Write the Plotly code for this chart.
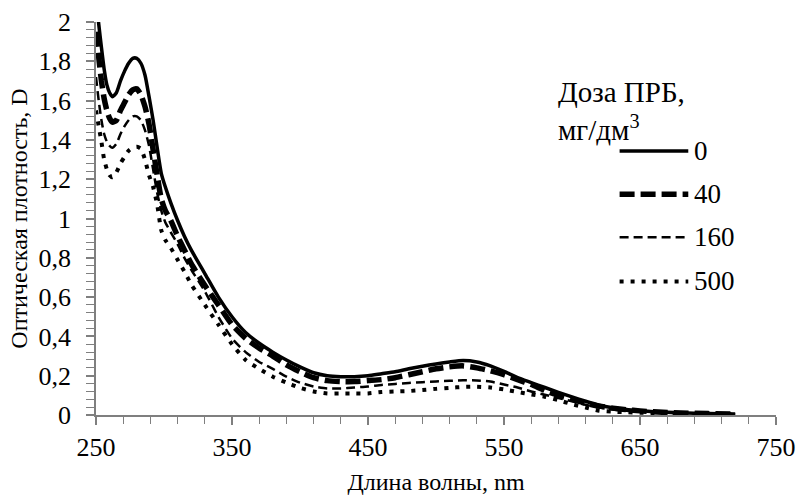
import plotly.graph_objects as go

wavelength = [250, 252, 254, 256, 258, 260, 262, 265, 268, 271, 274, 277, 280, 283, 286, 289, 292, 295, 298, 301,
              305, 310, 315, 320, 330, 340, 350, 360, 370, 380, 390, 400, 410, 420, 430, 440, 450, 460, 470, 480,
              490, 500, 510, 520, 530, 540, 550, 560, 570, 580, 590, 600, 610, 620, 630, 640, 650, 660, 680, 700, 720]

d_0 = [2.12, 1.99, 1.87, 1.76, 1.68, 1.64, 1.62, 1.64, 1.70, 1.75, 1.79, 1.815, 1.815, 1.79, 1.73, 1.62, 1.50, 1.36, 1.23, 1.16,
       1.08, 0.99, 0.91, 0.84, 0.72, 0.60, 0.50, 0.42, 0.365, 0.32, 0.28, 0.245, 0.215, 0.20, 0.195, 0.195, 0.20, 0.21, 0.22, 0.235,
       0.248, 0.26, 0.27, 0.277, 0.27, 0.25, 0.222, 0.19, 0.165, 0.14, 0.115, 0.092, 0.07, 0.05, 0.037, 0.028, 0.022, 0.017, 0.011, 0.007, 0.005]

d_40 = [1.95, 1.82, 1.70, 1.61, 1.55, 1.51, 1.49, 1.50, 1.55, 1.59, 1.63, 1.655, 1.66, 1.63, 1.57, 1.48, 1.35, 1.22, 1.10, 1.04,
        0.99, 0.91, 0.84, 0.77, 0.66, 0.56, 0.46, 0.39, 0.34, 0.30, 0.255, 0.22, 0.19, 0.175, 0.17, 0.17, 0.175, 0.18, 0.19, 0.205,
        0.22, 0.235, 0.245, 0.25, 0.24, 0.225, 0.205, 0.18, 0.155, 0.125, 0.10, 0.08, 0.06, 0.045, 0.035, 0.027, 0.021, 0.016, 0.01, 0.007, 0.005]

d_160 = [1.72, 1.60, 1.50, 1.43, 1.39, 1.37, 1.36, 1.38, 1.43, 1.47, 1.50, 1.52, 1.52, 1.50, 1.45, 1.37, 1.25, 1.13, 1.04, 0.98,
         0.93, 0.87, 0.80, 0.74, 0.63, 0.50, 0.39, 0.32, 0.27, 0.235, 0.195, 0.165, 0.145, 0.135, 0.135, 0.14, 0.145, 0.153, 0.158, 0.163,
         0.167, 0.171, 0.174, 0.177, 0.176, 0.17, 0.155, 0.14, 0.12, 0.103, 0.086, 0.07, 0.052, 0.038, 0.028, 0.021, 0.016, 0.013, 0.009, 0.006, 0.004]

d_500 = [1.55, 1.47, 1.39, 1.30, 1.25, 1.22, 1.21, 1.235, 1.28, 1.315, 1.345, 1.36, 1.365, 1.355, 1.30, 1.22, 1.16, 1.07, 0.94, 0.89,
         0.85, 0.79, 0.73, 0.665, 0.56, 0.46, 0.36, 0.28, 0.235, 0.195, 0.165, 0.138, 0.12, 0.11, 0.11, 0.11, 0.11, 0.117, 0.12, 0.122,
         0.127, 0.133, 0.138, 0.143, 0.144, 0.14, 0.13, 0.117, 0.105, 0.093, 0.075, 0.055, 0.038, 0.022, 0.017, 0.014, 0.012, 0.01, 0.008, 0.005, 0.004]

series_names = ["0", "40", "160", "500"]
series_values = [d_0, d_40, d_160, d_500]
series_styles = [
    dict(width=3.5, dash="solid"),
    dict(width=5.5, dash="15px,6px"),
    dict(width=2.5, dash="9px,5px"),
    dict(width=4, dash="4px,7px"),
]

legend_title = "Доза ПРБ,<br>мг/дм<sup>3</sup>"
x_title = "Длина волны, nm"
y_title = "Оптическая плотность, D"

FONT = "Liberation Serif, Times New Roman, serif"
AX = "#7f7f7f"

fig = go.Figure()
for name, vals, st in zip(series_names, series_values, series_styles):
    fig.add_trace(go.Scatter(x=wavelength, y=vals, mode="lines", name=name,
                             line=dict(color="black", width=st["width"], dash=st["dash"],
                                       shape="spline", smoothing=0.6),
                             showlegend=False, cliponaxis=True))

# manual legend (line samples + labels)
leg_x0, leg_x1, leg_tx = 0.770, 0.871, 0.877
leg_y = [0.672, 0.562, 0.452, 0.340]
for name, st, yy in zip(series_names, series_styles, leg_y):
    fig.add_shape(type="line", xref="paper", yref="paper", x0=leg_x0, x1=leg_x1, y0=yy, y1=yy,
                  line=dict(color="black", width=st["width"], dash=st["dash"]))
    fig.add_annotation(xref="paper", yref="paper", x=leg_tx, y=yy, text=name, showarrow=False,
                       xanchor="left", yanchor="middle", font=dict(family=FONT, size=27, color="black"))
fig.add_annotation(xref="paper", yref="paper", x=0.677, y=0.868, text=legend_title, showarrow=False,
                   xanchor="left", yanchor="top", align="left",
                   font=dict(family=FONT, size=29, color="black"))

fig.update_layout(
    width=800, height=498,
    margin=dict(l=96, r=24, t=22, b=83, autoexpand=False),
    paper_bgcolor="white", plot_bgcolor="white",
    separators=", ",
    font=dict(family=FONT, color="black"),
    xaxis=dict(range=[250, 750], tick0=250, dtick=100, showgrid=False, zeroline=False, automargin=False,
               showline=True, linecolor=AX, linewidth=1.5,
               ticks="outside", ticklen=8, tickwidth=1.5, tickcolor=AX,
               minor=dict(ticks="outside", dtick=20, tick0=250, ticklen=7, tickwidth=1.2, tickcolor=AX, showgrid=False),
               tickfont=dict(family=FONT, size=26, color="black"), ticklabelstandoff=0,
               title=dict(text=x_title, font=dict(family=FONT, size=24, color="black"), standoff=12)),
    yaxis=dict(range=[0, 2], tick0=0, dtick=0.2, showgrid=False, zeroline=False, automargin=False,
               showline=True, linecolor=AX, linewidth=1.5,
               ticks="outside", ticklen=8, tickwidth=1.5, tickcolor=AX,
               minor=dict(ticks="outside", dtick=0.04, ticklen=8, tickwidth=1.2, tickcolor=AX, showgrid=False),
               tickfont=dict(family=FONT, size=26, color="black"), ticklabelstandoff=10,
               title=dict(text=y_title, font=dict(family=FONT, size=24, color="black"), standoff=4)),
    xaxis2=dict(range=[250, 750], tick0=250, dtick=100, overlaying="x", anchor="y", side="bottom",
                showgrid=False, zeroline=False, showline=False, showticklabels=False, automargin=False,
                ticks="inside", ticklen=8, tickwidth=1.5, tickcolor=AX),
    yaxis2=dict(range=[0, 2], tick0=0, dtick=0.2, overlaying="y", anchor="x", side="left",
                showgrid=False, zeroline=False, showline=False, showticklabels=False, automargin=False,
                ticks="inside", ticklen=7, tickwidth=1.5, tickcolor=AX),
)

fig.write_html("out.html")
